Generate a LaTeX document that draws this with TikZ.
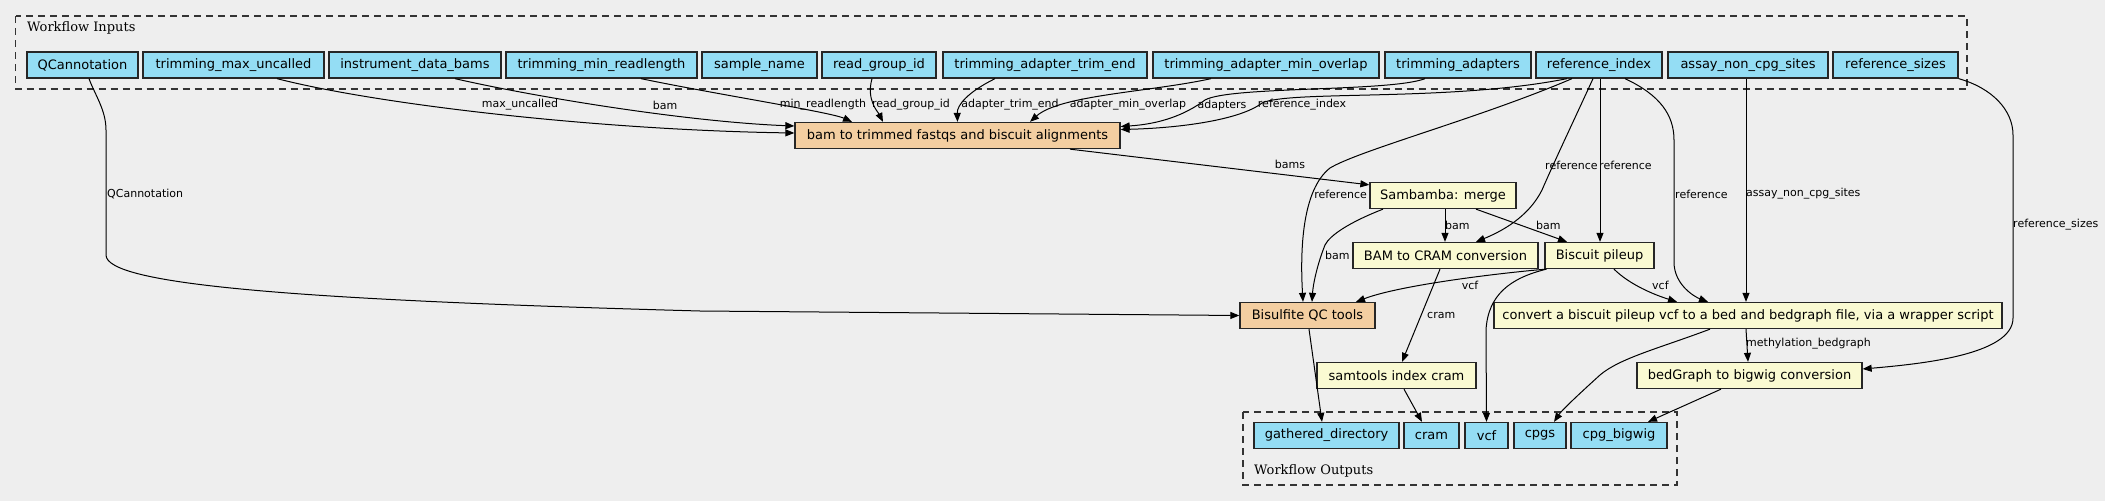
\documentclass[tikz,border=0pt]{standalone}
\usepackage{fontspec}
\setmainfont{DejaVu Sans}
\newfontfamily\clusfont{DejaVu Serif}
\usetikzlibrary{arrows.meta}
\definecolor{bgc}{HTML}{EEEEEE}
\definecolor{inpc}{HTML}{94DDF4}
\definecolor{stepc}{HTML}{FAFAD2}
\definecolor{subc}{HTML}{F3CEA1}
\begin{document}
\begin{tikzpicture}[x=1pt,y=-1pt,
 box/.style={draw=black!85, line width=1.3pt, minimum height=26pt, inner sep=0pt, font=\fontsize{13}{15}\selectfont},
 inbox/.style={box, fill=inpc},
 stepbox/.style={box, fill=stepc},
 subbox/.style={box, fill=subc},
 elabel/.style={font=\fontsize{11}{13}\selectfont, inner sep=0pt},
 conn/.style={line width=1pt, -{Triangle[length=9pt,width=7pt]}},
 clus/.style={draw=black!80, dash pattern=on 7pt off 5pt, line width=1.3pt},
 cluslabel/.style={font=\clusfont\fontsize{13}{15}\selectfont, inner sep=0pt, anchor=west},
]
\fill[bgc] (0,0) rectangle (2105,501);
\useasboundingbox (0,0) rectangle (2105,501);

% clusters
\draw[clus] (15.5,16) rectangle (1967,89);
\node[cluslabel] (cin) at (27,28) {Workflow Inputs};
\draw[clus] (1243,412) rectangle (1677,485);
\node[cluslabel] (cout) at (1254,471) {Workflow Outputs};

% inputs
\node[inbox, minimum width=111pt] (qc) at (82.5,65) {QCannotation};
\node[inbox, minimum width=181pt] (tmu) at (233.5,65) {trimming\_max\_uncalled};
\node[inbox, minimum width=172pt] (idb) at (415,65) {instrument\_data\_bams};
\node[inbox, minimum width=191pt] (tmr) at (601.5,65) {trimming\_min\_readlength};
\node[inbox, minimum width=115pt] (sn) at (759.5,65) {sample\_name};
\node[inbox, minimum width=114pt] (rg) at (879,65) {read\_group\_id};
\node[inbox, minimum width=204pt] (tate) at (1045,65) {trimming\_adapter\_trim\_end};
\node[inbox, minimum width=226pt] (tamo) at (1266,65) {trimming\_adapter\_min\_overlap};
\node[inbox, minimum width=146pt] (ta) at (1458,65) {trimming\_adapters};
\node[inbox, minimum width=126pt] (ri) at (1599,65) {reference\_index};
\node[inbox, minimum width=160pt] (anc) at (1748,65) {assay\_non\_cpg\_sites};
\node[inbox, minimum width=125pt] (rs) at (1895.5,65) {reference\_sizes};

% steps
\node[subbox, minimum width=325pt] (bt) at (957.5,135.5) {bam to trimmed fastqs and biscuit alignments};
\node[stepbox, minimum width=146pt] (sm) at (1443,195.5) {Sambamba: merge};
\node[stepbox, minimum width=185pt] (bc) at (1445.5,255.5) {BAM to CRAM conversion};
\node[stepbox, minimum width=109pt] (bp) at (1599.5,255.5) {Biscuit pileup};
\node[subbox, minimum width=135pt] (bq) at (1307.5,315.5) {Bisulfite QC tools};
\node[stepbox, minimum width=508pt] (cv) at (1748,315.5) {convert a biscuit pileup vcf to a bed and bedgraph file, via a wrapper script};
\node[stepbox, minimum width=159pt] (st) at (1396.5,375.5) {samtools index cram};
\node[stepbox, minimum width=225pt] (bg) at (1749.5,375.5) {bedGraph to bigwig conversion};

% outputs
\node[inbox, minimum width=145pt] (gd) at (1326.5,435.5) {gathered\_directory};
\node[inbox, minimum width=55pt] (cr) at (1431.5,435.5) {cram};
\node[inbox, minimum width=43pt] (vc) at (1486.5,435.5) {vcf};
\node[inbox, minimum width=52pt] (cp) at (1540,435.5) {cpgs};
\node[inbox, minimum width=96pt] (cb) at (1619,435.5) {cpg\_bigwig};

% edges into bam to trimmed
\draw[conn] ([xshift=6.5pt]qc.south) .. controls (95,95) and (106,110) .. (106,130) -- (106,255) .. controls (106,285) and (300,300) .. (700,311) -- (bq.west);
\draw[conn] ([xshift=43.5pt]tmu.south) .. controls (380,105) and (600,130) .. ([yshift=2.5pt]bt.west);
\draw[conn] ([xshift=40pt]idb.south) .. controls (540,98) and (690,122) .. ([yshift=9.5pt]bt.west);
\draw[conn] ([xshift=39.5pt]tmr.south) .. controls (720,95) and (830,112) .. ([xshift=-105.5pt]bt.north);
\draw[conn] ([xshift=-7pt]rg.south) .. controls (866,100) and (878,112) .. ([xshift=-74.5pt]bt.north);
\draw[conn] ([xshift=-50pt]tate.south) .. controls (968,92) and (957,105) .. (bt.north);
\draw[conn] ([xshift=-55pt]tamo.south) .. controls (1150,92) and (1060,95) .. ([xshift=72.5pt]bt.north);
\draw[conn] ([xshift=-33pt]ta.south) .. controls (1390,92) and (1230,86) .. (1205,100) .. controls (1185,115) and (1160,124) .. ([yshift=9pt]bt.east);
\draw[conn] ([xshift=-32pt]ri.south) .. controls (1450,102) and (1290,90) .. (1262,103) .. controls (1240,120) and (1180,128) .. ([yshift=6pt]bt.east);

% other edges
\draw[conn] ([xshift=112.5pt]bt.south) -- ([yshift=-3pt]sm.north west);
\draw[conn] ([xshift=-27pt]ri.south) .. controls (1480,118) and (1360,150) .. (1330,168) .. controls (1302,190) and (1300,250) .. ([xshift=-4.5pt]bq.north);
\draw[conn] ([xshift=-60pt]sm.south) .. controls (1350,222) and (1330,235) .. (1325,245) .. controls (1317,265) and (1313,285) .. ([xshift=4.5pt]bq.north);
\draw[conn] ([xshift=-53.5pt]bp.south) .. controls (1500,273) and (1400,285) .. ([xshift=48.5pt]bq.north);
\draw[conn] ([xshift=-6pt]ri.south) .. controls (1575,118) and (1555,160) .. (1542,190) .. controls (1528,218) and (1500,232) .. ([xshift=30.5pt]bc.north);
\draw[conn] ([xshift=1pt]ri.south) -- ([xshift=0.5pt]bp.north);
\draw[conn] ([xshift=26pt]ri.south) .. controls (1660,95) and (1674,115) .. (1674,140) -- (1674,262) .. controls (1674,285) and (1695,297) .. ([xshift=-40pt]cv.north);
\draw[conn] ([xshift=-2pt]anc.south) -- ([xshift=-2pt]cv.north);
\draw[conn] (rs.south east) .. controls (1992,88) and (2013,110) .. (2013,135) -- (2013,318) .. controls (2013,355) and (1920,364) .. ([yshift=6.5pt]bg.east);
\draw[conn] ([xshift=2pt]sm.south) -- ([xshift=-0.5pt]bc.north);
\draw[conn] ([xshift=33pt]sm.south) -- ([xshift=-32.5pt]bp.north);
\draw[conn] ([xshift=14.5pt]bp.south) .. controls (1630,285) and (1655,295) .. ([xshift=-71pt]cv.north);
\draw[conn] ([xshift=-5.5pt]bc.south) -- ([xshift=5.5pt]st.north);
\draw[conn] ([xshift=-53pt]bp.south) .. controls (1510,278) and (1488,295) .. (1486,330) -- (vc.north);
\draw[conn] ([xshift=1.5pt]bq.south) -- ([xshift=-4.5pt]gd.north);
\draw[conn] ([xshift=7.5pt]st.south) -- ([xshift=-9.5pt]cr.north);
\draw[conn] ([xshift=-38pt]cv.south) .. controls (1660,348) and (1620,358) .. (1600,375) .. controls (1578,395) and (1562,410) .. ([xshift=14pt]cp.north);
\draw[conn] ([xshift=-2pt]cv.south) -- ([xshift=-1.5pt]bg.north);
\draw[conn] ([xshift=-28.5pt]bg.south) -- ([xshift=29pt]cb.north);

% edge labels
\node[elabel] (l1) at (520,105) {max\_uncalled};
\node[elabel] (l2) at (665,105) {bam};
\node[elabel] (l3) at (823,105) {min\_readlength};
\node[elabel] (l4) at (911,105) {read\_group\_id};
\node[elabel] (l5) at (1010,105) {adapter\_trim\_end};
\node[elabel] (l6) at (1128,105) {adapter\_min\_overlap};
\node[elabel] (l7) at (1222,105) {adapters};
\node[elabel] (l8) at (1302,105) {reference\_index};
\node[elabel, anchor=west] (l9) at (107,194) {QCannotation};
\node[elabel] (l10) at (1290,164) {bams};
\node[elabel, anchor=east] (l11) at (1367,194) {reference};
\node[elabel, anchor=west] (l12) at (1545,165) {reference};
\node[elabel, anchor=west] (l13) at (1599,165) {reference};
\node[elabel, anchor=west] (l14) at (1675,194) {reference};
\node[elabel, anchor=west] (l15) at (1746,194) {assay\_non\_cpg\_sites};
\node[elabel, anchor=west] (l16) at (2013,225) {reference\_sizes};
\node[elabel, anchor=west] (l17) at (1445,225) {bam};
\node[elabel, anchor=west] (l18) at (1536,225) {bam};
\node[elabel, anchor=west] (l19) at (1325,255) {bam};
\node[elabel] (l20) at (1470,285) {vcf};
\node[elabel, anchor=west] (l21) at (1652,285) {vcf};
\node[elabel, anchor=west] (l22) at (1427,315) {cram};
\node[elabel, anchor=west] (l23) at (1746,344) {methylation\_bedgraph};
\end{tikzpicture}
\end{document}
